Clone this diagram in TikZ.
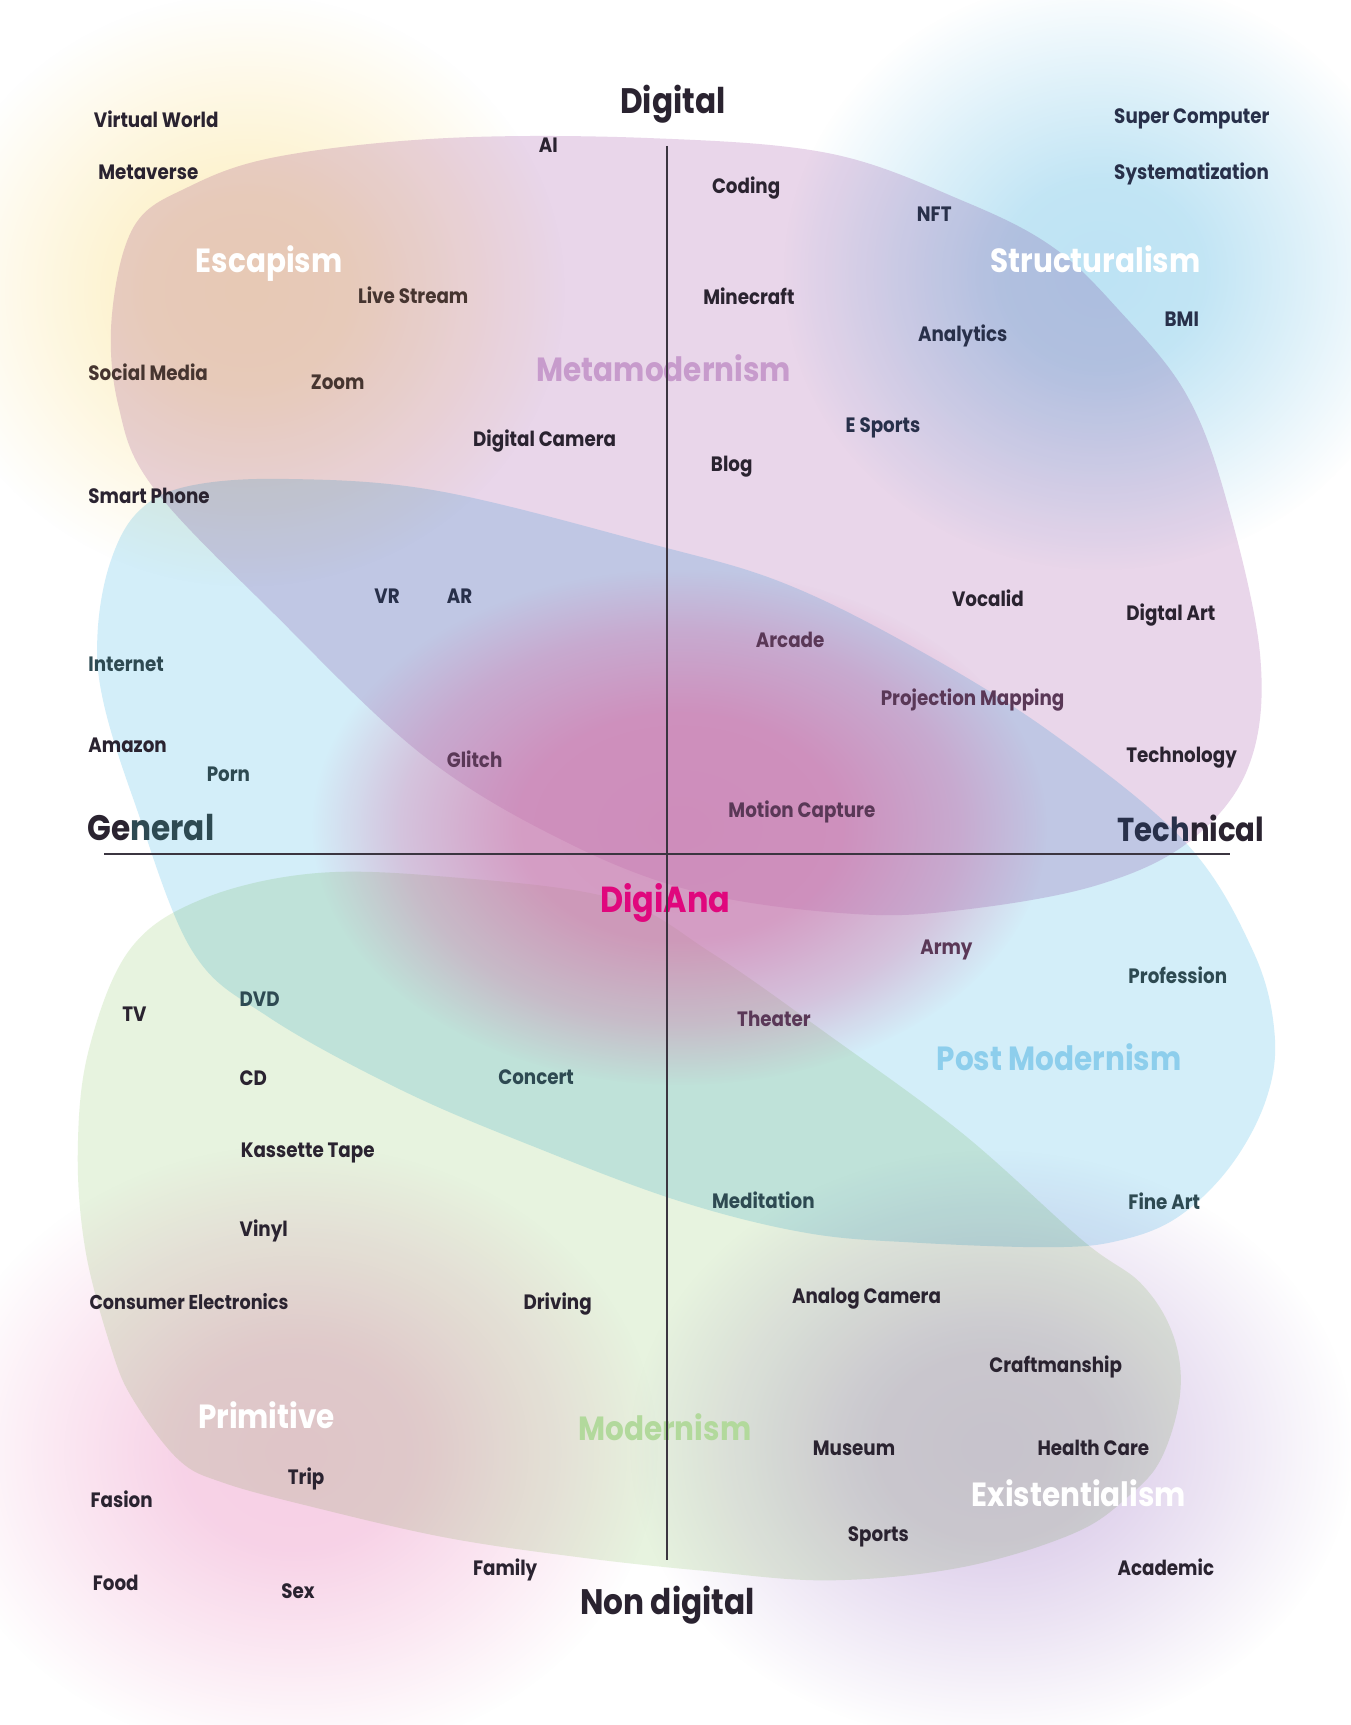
\documentclass[tikz,border=0pt]{standalone}
\usepackage{fontspec}
\setmainfont{Poppins}[FakeStretch=0.88]
\usetikzlibrary{fadings}

\definecolor{ink}{HTML}{2A2330}
\definecolor{inkbrown}{HTML}{463530}
\definecolor{inkplum}{HTML}{5A3857}
\definecolor{inkteal}{HTML}{2E4A52}
\definecolor{inknavy}{HTML}{28304A}
\definecolor{metaviolet}{HTML}{C79BCC}
\definecolor{postblue}{HTML}{8DCEEC}
\definecolor{modgreen}{HTML}{B2D99C}
\definecolor{digimagenta}{HTML}{E0077D}
\definecolor{axisgray}{HTML}{3B3540}
\definecolor{metafill}{HTML}{E9D6EA}
\definecolor{postfill}{HTML}{D3EEF9}
\definecolor{modfill}{HTML}{E7F3DF}
\definecolor{glowyellow}{HTML}{FDF0C6}
\definecolor{glowcyan}{HTML}{BDE3F4}
\definecolor{glowpink}{HTML}{F7CFE5}
\definecolor{glowpurple}{HTML}{DCCDEA}
\definecolor{glowrose}{HTML}{D672A8}

\pgfdeclareradialshading{glowshading}{\pgfpoint{0bp}{0bp}}{color(0bp)=(white); color(8bp)=(white!92!black); color(16bp)=(white!50!black); color(25bp)=(black); color(50bp)=(black)}
\pgfdeclarefading{glowfade}{\pgfuseshading{glowshading}}
\pgfdeclareradialshading{roseshading}{\pgfpoint{0bp}{0bp}}{color(0bp)=(white); color(11bp)=(white!95!black); color(19bp)=(white!50!black); color(25bp)=(black); color(50bp)=(black)}
\pgfdeclarefading{rosefade}{\pgfuseshading{roseshading}}

\begin{document}
\begin{tikzpicture}[x=0.1mm, y=-0.1mm,
    item/.style={font=\fontsize{5.4}{6}\selectfont\bfseries, text=ink,
      inner sep=0pt, text height=1.3mm, text depth=0pt, anchor=west},
    cat/.style={font=\fontsize{8.7}{9}\selectfont\bfseries, text=white,
      inner sep=0pt, text height=2mm, text depth=0pt, anchor=west},
    pole/.style={font=\fontsize{9.2}{10}\selectfont\bfseries, text=ink,
      inner sep=0pt, text height=2mm, text depth=0pt},
    axis/.style={draw=axisgray, line width=0.18mm},
    glow/.style={path fading=glowfade}
  ]
  \fill[white] (0,0) rectangle (1232,1574);
  \useasboundingbox (0,0) rectangle (1232,1574);

  \begin{scope}[blend mode=multiply]
    \fill[glowyellow, glow] (225,265) ellipse (290 and 270);
    \fill[glowcyan, glow] (1005,250) ellipse (290 and 270);
    \fill[glowpink, glow] (270,1325) ellipse (330 and 280);
    \fill[glowpurple, glow] (905,1320) ellipse (330 and 270);

    \fill[metafill] plot[smooth cycle, tension=0.6] coordinates {
      (102,289) (122,207) (171,171) (253,143) (407,126) (593,126) (757,140)
      (878,183) (960,225) (1021,283) (1082,359) (1119,456) (1150,600)
      (1139,700) (1085,768) (1000,808) (880,830) (780,834) (640,815)
      (520,770) (387,690) (250,560) (140,445) (108,370)};
    \fill[postfill] plot[smooth cycle, tension=0.6] coordinates {
      (89,578) (100,515) (125,468) (170,444) (260,437) (400,448) (593,496)
      (715,532) (838,593) (960,669) (1082,769) (1143,867) (1163,943)
      (1155,1004) (1122,1065) (1074,1111) (1021,1132) (960,1138) (838,1134)
      (736,1125) (620,1096) (489,1047) (367,995) (245,928) (175,867)
      (122,730) (94,639)};
    \fill[modfill] plot[smooth cycle, tension=0.6] coordinates {
      (81,958) (118,867) (183,821) (285,797) (407,800) (560,820) (650,870)
      (757,945) (878,1034) (988,1132) (1041,1171) (1070,1217) (1077,1270)
      (1060,1330) (1030,1365) (980,1399) (878,1430) (757,1442) (639,1433)
      (529,1421) (407,1403) (285,1375) (204,1353) (163,1332) (122,1278)
      (102,1232) (78,1141) (71,1049)};
  \end{scope}
  \fill[glowrose, path fading=rosefade, fill opacity=0.68] (620,755) ellipse (335 and 235);

  \node[item] (virtualworld) at (85,110) {Virtual World};
  \node[item] (metaverse) at (89,157) {Metaverse};
  \node[item] (ai) at (491,133) {AI};
  \node[item] (coding) at (649,170) {Coding};
  \node[item, text=inknavy] (nft) at (836,196) {NFT};
  \node[item, text=inknavy] (supercomputer) at (1016,106) {Super Computer};
  \node[item, text=inknavy] (systematization) at (1016,157) {Systematization};
  \node[cat] (escapism) at (178,239) {Escapism};
  \node[cat] (structuralism) at (903,239) {Structuralism};
  \node[item, text=inkbrown] (livestream) at (326,270) {Live Stream};
  \node[item] (minecraft) at (641,271) {Minecraft};
  \node[item, text=inknavy] (analytics) at (837,305) {Analytics};
  \node[item, text=inknavy] (bmi) at (1062,291) {BMI};
  \node[item, text=inkbrown] (socialmedia) at (80,341) {Social Media};
  \node[item, text=inkbrown] (zoom) at (283,349) {Zoom};
  \node[cat, text=metaviolet] (metamodernism) at (489,338) {Metamodernism};
  \node[item, text=inknavy] (esports) at (771,388) {E Sports};
  \node[item] (digitalcamera) at (431,401) {Digital Camera};
  \node[item] (blog) at (648,424) {Blog};
  \node[item] (smartphone) at (80,453) {Smart Phone};
  \node[item, text=inknavy] (vr) at (341,544) {VR};
  \node[item, text=inknavy] (ar) at (407,544) {AR};
  \node[item] (vocalid) at (868,547) {Vocalid};
  \node[item] (digtalart) at (1027,560) {Digtal Art};
  \node[item, text=inkplum] (arcade) at (689,584) {Arcade};
  \node[item, text=inkteal] (internet) at (80,606) {Internet};
  \node[item, text=inkplum] (projection) at (803,637) {Projection Mapping};
  \node[item] (amazon) at (80,680) {Amazon};
  \node[item] (technology) at (1027,689) {Technology};
  \node[item, text=inkplum] (glitch) at (407,694) {Glitch};
  \node[item, text=inkteal] (porn) at (188,707) {Porn};
  \node[item, text=inkplum] (motioncapture) at (664,739) {Motion Capture};
  \node[pole, anchor=west] (general) at (79,757) {Ge\textcolor{inkteal}{neral}};
  \node[pole, anchor=west, font=\fontsize{8.6}{10}\selectfont\bfseries] (technical) at (1019,758) {\textcolor{inknavy}{Tech}nical};
  \node[pole] (digital) at (614,94) {Digital};
  \node[pole] (nondigital) at (609,1463) {Non digital};
  \node[cat, anchor=center, text=digimagenta, font=\fontsize{9.4}{10}\selectfont\bfseries] (digiana) at (607,823) {DigiAna};
  \node[item, text=inkplum] (army) at (839,864) {Army};
  \node[item, text=inkteal] (profession) at (1029,891) {Profession};
  \node[item, text=inkteal] (dvd) at (218,912) {DVD};
  \node[item] (tv) at (111,926) {TV};
  \node[item, text=inkplum] (theater) at (672,930) {Theater};
  \node[cat, text=postblue] (postmodernism) at (854,967) {Post Modernism};
  \node[item] (cd) at (218,984) {CD};
  \node[item, text=inkteal] (concert) at (454,983) {Concert};
  \node[item] (kassette) at (219,1050) {Kassette Tape};
  \node[item, text=inkteal] (meditation) at (649,1096) {Meditation};
  \node[item, text=inkteal] (fineart) at (1029,1097) {Fine Art};
  \node[item] (vinyl) at (218,1122) {Vinyl};
  \node[item] (analogcamera) at (722,1183) {Analog Camera};
  \node[item, font=\fontsize{5.2}{6}\selectfont\bfseries] (consumer) at (81,1188) {Consumer Electronics};
  \node[item] (driving) at (477,1188) {Driving};
  \node[item] (craftmanship) at (902,1246) {Craftmanship};
  \node[cat] (primitive) at (180,1293) {Primitive};
  \node[cat, text=modgreen] (modernism) at (527,1304) {Modernism};
  \node[item] (museum) at (741,1322) {Museum};
  \node[item] (healthcare) at (946,1322) {Health Care};
  \node[item] (trip) at (262,1348) {Trip};
  \node[cat] (existentialism) at (886,1365) {Existentialism};
  \node[item] (fasion) at (82,1369) {Fasion};
  \node[item] (sports) at (773,1400) {Sports};
  \node[item] (family) at (431,1431) {Family};
  \node[item] (academic) at (1019,1431) {Academic};
  \node[item] (food) at (84,1445) {Food};
  \node[item] (sex) at (256,1452) {Sex};

  \coordinate (ytop) at (609,133);
  \coordinate (ybottom) at (609,1423);
  \coordinate (xleft) at (95,779);
  \coordinate (xright) at (1122,779);
  \draw[axis] (ytop) -- (ybottom);
  \draw[axis] (xleft) -- (xright);
\end{tikzpicture}
\end{document}
